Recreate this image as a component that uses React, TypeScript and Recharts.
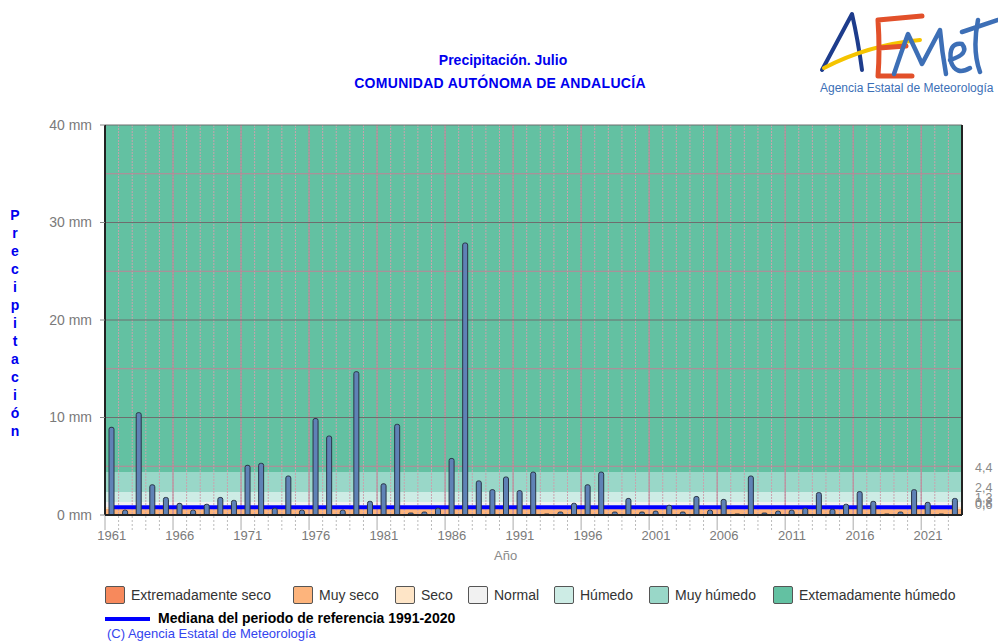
import { ComposedChart, Bar, XAxis, YAxis, CartesianGrid, ReferenceLine } from "recharts"

// July precipitation, Andalucía (mm), one value per year
const YEARS = [
  "1961", "1962", "1963", "1964", "1965", "1966", "1967", "1968", "1969", "1970",
  "1971", "1972", "1973", "1974", "1975", "1976", "1977", "1978", "1979", "1980",
  "1981", "1982", "1983", "1984", "1985", "1986", "1987", "1988", "1989", "1990",
  "1991", "1992", "1993", "1994", "1995", "1996", "1997", "1998", "1999", "2000",
  "2001", "2002", "2003", "2004", "2005", "2006", "2007", "2008", "2009", "2010",
  "2011", "2012", "2013", "2014", "2015", "2016", "2017", "2018", "2019", "2020",
  "2021", "2022", "2023",
]
const PRECIP = [
  9.0, 0.5, 10.5, 3.1, 1.8, 1.2, 0.5, 1.1, 1.8, 1.5,
  5.1, 5.3, 0.7, 4.0, 0.5, 9.9, 8.1, 0.5, 14.7, 1.4,
  3.2, 9.3, 0.2, 0.3, 0.7, 5.8, 27.9, 3.5, 2.6, 3.9,
  2.5, 4.4, 0.1, 0.3, 1.2, 3.1, 4.4, 0.3, 1.7, 0.3,
  0.4, 1.0, 0.3, 1.9, 0.5, 1.6, 0.1, 4.0, 0.2, 0.4,
  0.5, 0.7, 2.3, 0.6, 1.1, 2.4, 1.4, 0.1, 0.3, 2.6,
  1.3, 0.1, 1.7,
]
const MEDIAN = 0.8

// category thresholds (mm) and the ones written at the right edge
const BAND_TICKS = [0, 0.6, 0.8, 1.3, 2.4, 4.4, 40]
const BAND_LABELS = [4.4, 2.4, 1.3, 0.8, 0.6]
const Y_TICKS = [0, 10, 20, 30, 40]
const Y_HALF_TICKS = [5, 15, 25, 35]

const LEGEND = [
  { label: "Extremadamente seco", color: "#f7895c", left: 105 },
  { label: "Muy seco", color: "#fdb47c", left: 293 },
  { label: "Seco", color: "#fee5c7", left: 395 },
  { label: "Normal", color: "#f1f1f1", left: 468 },
  { label: "Húmedo", color: "#cdece5", left: 554 },
  { label: "Muy húmedo", color: "#99d7c8", left: 649 },
  { label: "Extemadamente húmedo", color: "#63c1a2", left: 773 },
]
// top to bottom: ext. húmedo, muy húmedo, húmedo, normal, seco, muy seco
const STRIPES = ["#63c1a2", "#99d7c8", "#cdece5", "#f1f1f1", "#fee5c7", "#fdb47c"]

const data = YEARS.map((year, i) => ({ year, precip: PRECIP[i] }))

const FONT = "'Liberation Sans', Arial, sans-serif"
const HALF_BAND = 857 / YEARS.length / 2

// left edge of every year band, taken from the axis scale
function yearEdges(props: any, every: number) {
  const { xAxis, offset } = props
  const out: number[] = []
  YEARS.forEach((y, i) => {
    if (i % every !== 0) return
    let px: number
    if (xAxis && typeof xAxis.scale === "function") px = xAxis.scale(y)
    else px = offset.left + (i * offset.width) / YEARS.length
    out.push(px)
  })
  return out
}

function YearTick(props: any) {
  const { x, y, payload } = props
  const half = HALF_BAND
  const year = Number(payload.value)
  const major = (year - 1961) % 5 === 0
  return (
    <g>
      <line
        x1={x - half}
        x2={x - half}
        y1={y + 1}
        y2={y + 15}
        stroke={major ? "#aaa" : "#bbb"}
        strokeDasharray={major ? undefined : "2 2"}
      />
      {major && (
        <text x={x} y={y + 25} textAnchor="middle" fill="#7a7a7a" fontSize={13} fontFamily={FONT}>
          {payload.value}
        </text>
      )}
    </g>
  )
}

function bandLabel(value: number) {
  return (props: any) => {
    const vb = props.viewBox || {}
    return (
      <text x={(vb.x || 0) + (vb.width || 0) + 13} y={vb.y} fill="#8a8a8a" fontSize={12.5} fontFamily={FONT}>
        {String(value).replace(".", ",")}
      </text>
    )
  }
}

function Logo() {
  return (
    <svg width={190} height={100} style={{ position: "absolute", left: 808, top: 0 }}>
      <g fill="none" strokeLinecap="round" strokeLinejoin="round">
        <path d="M14 70 Q30 40 44 14 Q50 40 54 70" stroke="#1d3c8c" strokeWidth={4} />
        <path d="M16 68 Q60 45 112 40" stroke="#f5c400" strokeWidth={4} />
        <path d="M70 20 Q72 50 70 76 M70 20 L114 16 M71 48 L98 46 M70 76 L104 76" stroke="#e2502a" strokeWidth={5} />
        <path d="M86 74 Q94 50 100 34 Q110 55 114 64 Q124 45 132 30 Q134 52 138 74" stroke="#3d6fb6" strokeWidth={4.5} />
        <path d="M142 60 Q162 54 154 44 Q140 42 143 62 Q148 76 162 68" stroke="#3d6fb6" strokeWidth={4.5} />
        <path d="M170 20 Q164 50 172 72 M154 32 Q172 26 190 20" stroke="#3d6fb6" strokeWidth={4.5} />
      </g>
      <text x={12} y={92} fill="#3b6fb6" fontSize={12} fontFamily={FONT}>
        Agencia Estatal de Meteorología
      </text>
    </svg>
  )
}

export default function App() {
  const yLetters = "Precipitación".split("")
  return (
    <div style={{ position: "absolute", left: 0, top: 0, width: 998, height: 641, background: "#fff", fontFamily: FONT }}>
      <Logo />
      <div style={{ position: "absolute", left: 303, top: 52, width: 400, textAlign: "center", color: "#0000ee", fontWeight: "bold", fontSize: 14 }}>
        Precipitación. Julio
      </div>
      <div style={{ position: "absolute", left: 300, top: 75, width: 400, textAlign: "center", color: "#0000ee", fontWeight: "bold", fontSize: 14, letterSpacing: 0.3 }}>
        COMUNIDAD AUTÓNOMA DE ANDALUCÍA
      </div>
      <div style={{ position: "absolute", left: 5, top: 206, width: 20, textAlign: "center", color: "#0000ee", fontWeight: "bold", fontSize: 14, lineHeight: "18px" }}>
        {yLetters.map((c, i) => (
          <div key={i}>{c}</div>
        ))}
      </div>
      <div style={{ position: "absolute", left: 494, top: 548, color: "#8a8a8a", fontSize: 13 }}>Año</div>

      <ComposedChart width={998} height={641} data={data} margin={{ top: 125, right: 0, bottom: 96, left: 0 }}>
        <XAxis
          dataKey="year"
          interval={0}
          tickLine={false}
          tickSize={0}
          tickMargin={0}
          tick={<YearTick />}
          axisLine={{ stroke: "#222", strokeWidth: 2 }}
          height={30}
        />
        <XAxis xAxisId="top" dataKey="year" orientation="top" height={0} tick={false} tickLine={false} axisLine={{ stroke: "#222", strokeWidth: 2 }} />
        <YAxis
          domain={[0, 40]}
          ticks={Y_TICKS}
          interval={0}
          width={105}
          tickSize={5}
          tickMargin={8}
          tickFormatter={(v) => `${v} mm`}
          tick={{ fill: "#7a7a7a", fontSize: 14, fontFamily: FONT }}
          tickLine={{ stroke: "#888" }}
          axisLine={{ stroke: "#222", strokeWidth: 2 }}
        />
        <YAxis
          yAxisId="right"
          orientation="right"
          domain={[0, 40]}
          width={36}
          tick={false}
          tickLine={false}
          axisLine={{ stroke: "#222", strokeWidth: 2 }}
        />
        <CartesianGrid vertical={false} horizontalValues={BAND_TICKS} stroke="none" horizontalFill={STRIPES} />
        <CartesianGrid
          horizontal={false}
          verticalCoordinatesGenerator={(p: any) => yearEdges(p, 1)}
          stroke="#c9a3ae"
          strokeDasharray="2 1"
        />
        <CartesianGrid horizontal={false} verticalCoordinatesGenerator={(p: any) => yearEdges(p, 5)} stroke="#bf8296" />
        <CartesianGrid vertical={false} horizontalValues={Y_HALF_TICKS} stroke="#bf8296" />
        <CartesianGrid vertical={false} stroke="#6e6e6e" />
        {BAND_LABELS.map((v) => (
          <ReferenceLine key={v} y={v} stroke="none" label={bandLabel(v)} />
        ))}
        <ReferenceLine
          segment={[
            { x: YEARS[0], y: MEDIAN },
            { x: YEARS[YEARS.length - 1], y: MEDIAN },
          ]}
          stroke="#0000ff"
          strokeWidth={4}
          zIndex={250}
        />
        <Bar dataKey="precip" barSize={5} fill="#5f82b6" stroke="#2a3446" strokeWidth={1} radius={[2, 2, 0, 0]} isAnimationActive={false} />
      </ComposedChart>

      {LEGEND.map((item) => (
        <div key={item.label} style={{ position: "absolute", left: item.left, top: 586, display: "flex", alignItems: "center", whiteSpace: "nowrap" }}>
          <div style={{ width: 18, height: 16, background: item.color, border: "1.5px solid #555", borderRadius: 2 }} />
          <span style={{ marginLeft: 6, fontSize: 14, color: "#333" }}>{item.label}</span>
        </div>
      ))}
      <div style={{ position: "absolute", left: 105, top: 617, width: 45, height: 4, background: "#0000ff" }} />
      <div style={{ position: "absolute", left: 158, top: 610, fontSize: 14, fontWeight: "bold", color: "#000", whiteSpace: "nowrap" }}>
        Mediana del periodo de referencia 1991-2020
      </div>
      <div style={{ position: "absolute", left: 107, top: 626, fontSize: 13, color: "#3344ee", whiteSpace: "nowrap" }}>
        (C) Agencia Estatal de Meteorología
      </div>
    </div>
  )
}
